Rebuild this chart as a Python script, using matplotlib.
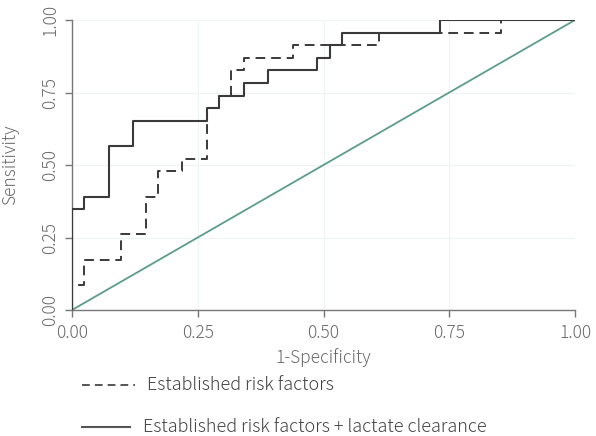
import matplotlib
matplotlib.use('Agg')
from matplotlib import pyplot as plt
from matplotlib.lines import Line2D
import numpy as np

plt.rcParams['font.family'] = ['Noto Sans CJK JP', 'DejaVu Sans']
plt.rcParams['font.weight'] = 'light'
plt.rcParams['axes.labelweight'] = 'light'

# ROC corner points, counted in cases: 41 negatives, 23 positives
n_neg = 41
n_pos = 23
fp_base = [0, 0, 1, 4, 6, 7, 9, 11, 12, 13, 14, 18, 25, 35, 41]
tp_base = [0, 2, 4, 6, 9, 11, 12, 16, 17, 19, 20, 21, 22, 23, 23]
fp_lact = [0, 0, 1, 3, 5, 11, 12, 14, 16, 20, 21, 22, 30, 41]
tp_lact = [0, 8, 9, 13, 15, 16, 17, 18, 19, 20, 21, 22, 23, 23]

labels = ["Established risk factors", "Established risk factors + lactate clearance"]
ticks = [0, 0.25, 0.5, 0.75, 1.0]
tick_labels = ["0.00", "0.25", "0.50", "0.75", "1.00"]

txt = '#6a6a6a'
W, H = 596, 436

fig = plt.figure(figsize=(5.96, 4.36), dpi=100)
ax = fig.add_axes([72 / W, 1 - 310 / H, 503 / W, 290 / H])

ax.plot([0, 1], [0, 1], color='#5c9c8c', lw=1.3, zorder=2)
ax.plot(np.array(fp_base) / n_neg, np.array(tp_base) / n_pos, drawstyle='steps-post',
        color='#3a3a3a', lw=1.4, dashes=(5, 3), zorder=3)
ax.plot(np.array(fp_lact) / n_neg, np.array(tp_lact) / n_pos, drawstyle='steps-post',
        color='#3a3a3a', lw=1.5, zorder=4)

ax.set_xlim(0, 1)
ax.set_ylim(0, 1)
ax.set_xticks(ticks, tick_labels)
ax.set_yticks(ticks, tick_labels)
for t in ax.get_yticklabels():
    t.set_rotation(90)
    t.set_va('center')
ax.grid(True, color='#eef4f4', lw=0.8, zorder=0)
for s in ['top', 'right']:
    ax.spines[s].set_visible(False)
for s in ['left', 'bottom']:
    ax.spines[s].set_color('#777777')
    ax.spines[s].set_linewidth(1.0)
ax.tick_params(colors='#777777', labelcolor=txt, labelsize=12.5, length=5, width=1)
ax.tick_params(axis='x', pad=5)
ax.tick_params(axis='y', pad=4)
ax.set_xlabel("1-Specificity", color=txt, fontsize=12.5, fontweight='light', labelpad=4.5)
ax.set_ylabel("Sensitivity", color=txt, fontsize=12.5, fontweight='light', labelpad=16)

# legend drawn by hand below the axes
fig.add_artist(Line2D([82 / W, 135 / W], [1 - 385 / H] * 2, color='#555555', lw=1.4,
                      dashes=(4, 2.6)))
fig.text(147 / W, 1 - 385 / H, labels[0], fontsize=13, color='#444444', va='center')
fig.add_artist(Line2D([82 / W, 130 / W], [1 - 427 / H] * 2, color='#555555', lw=1.5))
fig.text(143 / W, 1 - 427 / H, labels[1], fontsize=13, color='#444444', va='center')

plt.savefig('out.png', dpi=100)
